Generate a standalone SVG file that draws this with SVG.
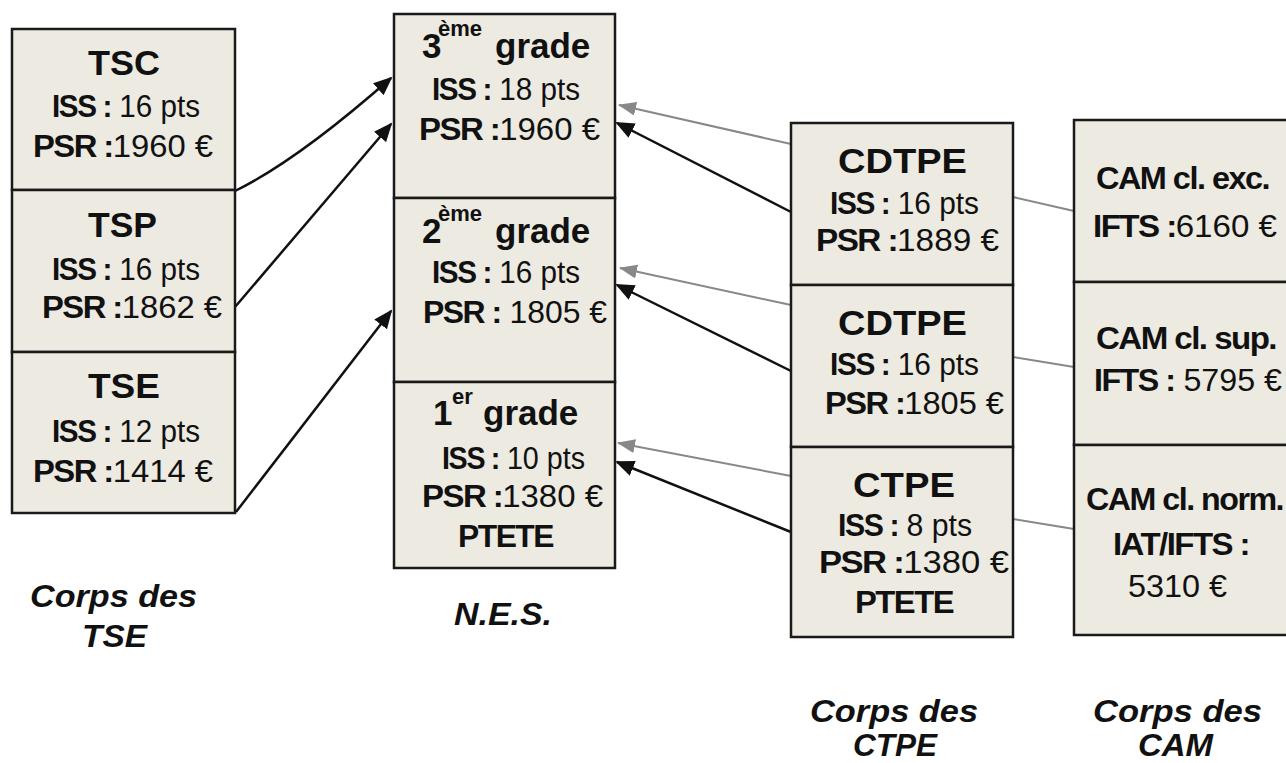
<svg xmlns="http://www.w3.org/2000/svg" width="1286" height="763" viewBox="0 0 1286 763">
<style>
.box{fill:#ECEAE1;stroke:#1a1a1a;stroke-width:2.5}
text{font-family:"Liberation Sans",Arial,sans-serif;fill:#111}
.t{font-weight:bold;font-size:35px}
.v{font-size:32px}
.b{font-weight:bold}
.v .b,.v.b{letter-spacing:-1.5px}
.sup{font-weight:bold;font-size:22px}
.lbl{font-weight:bold;font-style:italic;font-size:31px}
.blk{stroke:#111;stroke-width:2.5;fill:none}
.gry{stroke:#888;stroke-width:2;fill:none}
</style>
<defs>
<marker id="ab" markerUnits="userSpaceOnUse" markerWidth="20" markerHeight="16" refX="17" refY="8" orient="auto"><path d="M0,0 L19,8 L0,16 z" fill="#111"/></marker>
<marker id="ag" markerUnits="userSpaceOnUse" markerWidth="20" markerHeight="16" refX="17" refY="7" orient="auto"><path d="M0,0 L18,7 L0,14 z" fill="#888"/></marker>
</defs>

<g id="connectors">
<path class="blk" d="M235,191 Q298,160 391,78" marker-end="url(#ab)"/>
<path class="blk" d="M235,307 L391,124" marker-end="url(#ab)"/>
<path class="blk" d="M236,512 L391,311" marker-end="url(#ab)"/>
<path class="gry" d="M791,144 L619,105" marker-end="url(#ag)"/>
<path class="blk" d="M791,212 L617,123" marker-end="url(#ab)"/>
<path class="gry" d="M791,305 L620,268" marker-end="url(#ag)"/>
<path class="blk" d="M791,371 L617,285" marker-end="url(#ab)"/>
<path class="gry" d="M791,476 L618,443" marker-end="url(#ag)"/>
<path class="blk" d="M791,532 L617,462" marker-end="url(#ab)"/>
<path class="gry" d="M1013,197 L1074,211"/>
<path class="gry" d="M1013,357 L1074,367"/>
<path class="gry" d="M1013,519 L1074,529"/>
</g>

<g id="tsc">
<rect class="box" x="12" y="29" width="223" height="161"/>
<text class="t" x="88" y="75" textLength="72" lengthAdjust="spacingAndGlyphs">TSC</text>
<text class="v" x="52" y="117" textLength="148" lengthAdjust="spacingAndGlyphs"><tspan class="b">ISS :</tspan> 16 pts</text>
<text class="v" x="33" y="157" textLength="180" lengthAdjust="spacingAndGlyphs"><tspan class="b">PSR :</tspan>1960 €</text>
</g>
<g id="tsp">
<rect class="box" x="12" y="190" width="223" height="162"/>
<text class="t" x="88" y="237" textLength="69" lengthAdjust="spacingAndGlyphs">TSP</text>
<text class="v" x="52" y="280" textLength="148" lengthAdjust="spacingAndGlyphs"><tspan class="b">ISS :</tspan> 16 pts</text>
<text class="v" x="42" y="318" textLength="180" lengthAdjust="spacingAndGlyphs"><tspan class="b">PSR :</tspan>1862 €</text>
</g>
<g id="tse">
<rect class="box" x="12" y="352" width="223" height="161"/>
<text class="t" x="88" y="398" textLength="72" lengthAdjust="spacingAndGlyphs">TSE</text>
<text class="v" x="52" y="442" textLength="148" lengthAdjust="spacingAndGlyphs"><tspan class="b">ISS :</tspan> 12 pts</text>
<text class="v" x="33" y="482" textLength="180" lengthAdjust="spacingAndGlyphs"><tspan class="b">PSR :</tspan>1414 €</text>
</g>

<g id="grade3">
<rect class="box" x="394" y="14" width="221" height="184"/>
<text class="t" y="58"><tspan x="422">3</tspan><tspan class="sup" x="438" y="36">ème</tspan><tspan x="495" y="58">grade</tspan></text>
<text class="v" x="432" y="100" textLength="148" lengthAdjust="spacingAndGlyphs"><tspan class="b">ISS :</tspan> 18 pts</text>
<text class="v" x="419" y="140" textLength="181" lengthAdjust="spacingAndGlyphs"><tspan class="b">PSR :</tspan>1960 €</text>
</g>
<g id="grade2">
<rect class="box" x="394" y="198" width="221" height="184"/>
<text class="t" y="243"><tspan x="422">2</tspan><tspan class="sup" x="438" y="221">ème</tspan><tspan x="495" y="243">grade</tspan></text>
<text class="v" x="432" y="283" textLength="148" lengthAdjust="spacingAndGlyphs"><tspan class="b">ISS :</tspan> 16 pts</text>
<text class="v" x="423" y="323" textLength="184" lengthAdjust="spacingAndGlyphs"><tspan class="b">PSR :</tspan> 1805 €</text>
</g>
<g id="grade1">
<rect class="box" x="394" y="382" width="221" height="186"/>
<text class="t" y="425"><tspan x="433">1</tspan><tspan class="sup" x="452" y="404">er</tspan><tspan x="483" y="425">grade</tspan></text>
<text class="v" x="442" y="469" textLength="143" lengthAdjust="spacingAndGlyphs"><tspan class="b">ISS :</tspan> 10 pts</text>
<text class="v" x="422" y="507" textLength="181" lengthAdjust="spacingAndGlyphs"><tspan class="b">PSR :</tspan>1380 €</text>
<text class="v b" x="458" y="547" textLength="95" lengthAdjust="spacingAndGlyphs">PTETE</text>
</g>

<g id="cdtpe1">
<rect class="box" x="791" y="123" width="222" height="162"/>
<text class="t" x="838" y="173" textLength="129" lengthAdjust="spacingAndGlyphs">CDTPE</text>
<text class="v" x="830" y="214" textLength="149" lengthAdjust="spacingAndGlyphs"><tspan class="b">ISS :</tspan> 16 pts</text>
<text class="v" x="816" y="251" textLength="183" lengthAdjust="spacingAndGlyphs"><tspan class="b">PSR :</tspan>1889 €</text>
</g>
<g id="cdtpe2">
<rect class="box" x="791" y="285" width="222" height="162"/>
<text class="t" x="838" y="335" textLength="129" lengthAdjust="spacingAndGlyphs">CDTPE</text>
<text class="v" x="830" y="375" textLength="149" lengthAdjust="spacingAndGlyphs"><tspan class="b">ISS :</tspan> 16 pts</text>
<text class="v" x="825" y="414" textLength="179" lengthAdjust="spacingAndGlyphs"><tspan class="b">PSR :</tspan>1805 €</text>
</g>
<g id="ctpe">
<rect class="box" x="791" y="447" width="222" height="190"/>
<text class="t" x="853" y="497" textLength="102" lengthAdjust="spacingAndGlyphs">CTPE</text>
<text class="v" x="838" y="536" textLength="134" lengthAdjust="spacingAndGlyphs"><tspan class="b">ISS :</tspan> 8 pts</text>
<text class="v" x="819" y="573" textLength="190" lengthAdjust="spacingAndGlyphs"><tspan class="b">PSR :</tspan>1380 €</text>
<text class="v b" x="855" y="613" textLength="98" lengthAdjust="spacingAndGlyphs">PTETE</text>
</g>

<g id="cam-exc">
<rect class="box" x="1074" y="120" width="230" height="162"/>
<text class="v b" x="1096" y="189" textLength="173" lengthAdjust="spacingAndGlyphs">CAM cl. exc.</text>
<text class="v" x="1093" y="237" textLength="184" lengthAdjust="spacingAndGlyphs"><tspan class="b">IFTS :</tspan>6160 €</text>
</g>
<g id="cam-sup">
<rect class="box" x="1074" y="282" width="230" height="163"/>
<text class="v b" x="1096" y="349" textLength="180" lengthAdjust="spacingAndGlyphs">CAM cl. sup.</text>
<text class="v" x="1094" y="391" textLength="188" lengthAdjust="spacingAndGlyphs"><tspan class="b">IFTS :</tspan> 5795 €</text>
</g>
<g id="cam-norm">
<rect class="box" x="1074" y="445" width="230" height="190"/>
<text class="v b" x="1086" y="510" textLength="197" lengthAdjust="spacingAndGlyphs">CAM cl. norm.</text>
<text class="v b" x="1113" y="555" textLength="136" lengthAdjust="spacingAndGlyphs">IAT/IFTS :</text>
<text class="v" x="1128" y="597" textLength="99" lengthAdjust="spacingAndGlyphs">5310 €</text>
</g>

<g id="labels">
<text class="lbl" x="30" y="607" textLength="167" lengthAdjust="spacingAndGlyphs">Corps des</text>
<text class="lbl" x="82" y="647" textLength="65" lengthAdjust="spacingAndGlyphs">TSE</text>
<text class="lbl" x="454" y="625" textLength="98" lengthAdjust="spacingAndGlyphs">N.E.S.</text>
<text class="lbl" x="810" y="722" textLength="168" lengthAdjust="spacingAndGlyphs">Corps des</text>
<text class="lbl" x="853" y="756" textLength="84" lengthAdjust="spacingAndGlyphs">CTPE</text>
<text class="lbl" x="1093" y="722" textLength="169" lengthAdjust="spacingAndGlyphs">Corps des</text>
<text class="lbl" x="1138" y="756" textLength="75" lengthAdjust="spacingAndGlyphs">CAM</text>
</g>
</svg>
